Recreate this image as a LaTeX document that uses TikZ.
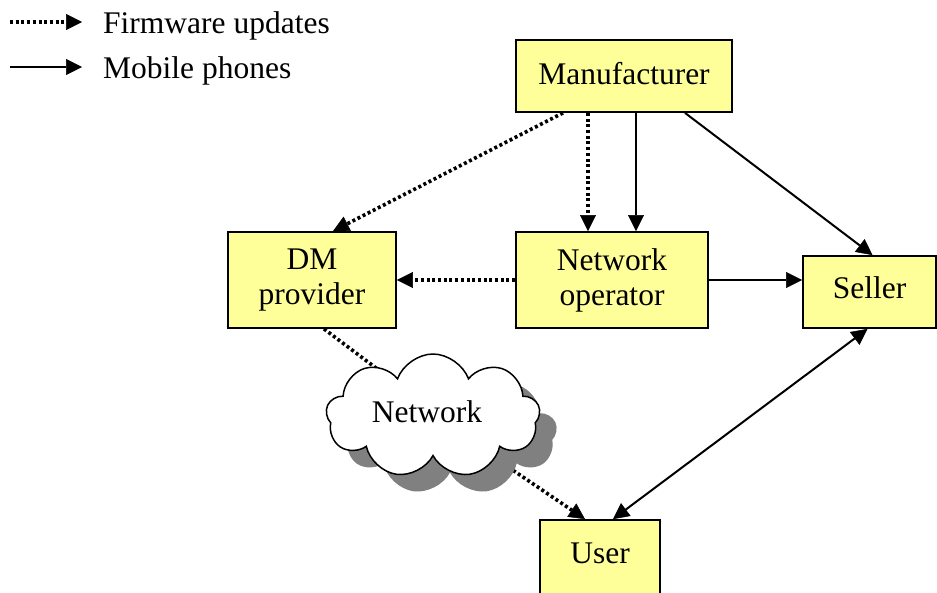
\documentclass[tikz,border=0pt]{standalone}
\usepackage{fontspec}
\setmainfont{Liberation Serif}
\newfontfamily\labelfont{Liberation Serif}
\usetikzlibrary{arrows.meta,shapes.symbols,shadows,backgrounds,calc}
\definecolor{boxyellow}{RGB}{255,255,153}
\definecolor{shadowgray}{RGB}{128,128,128}
\tikzset{
  every node/.style={font=\labelfont\fontsize{31.5}{35}\selectfont},
  actor/.style={draw=black, line width=1.8pt, fill=boxyellow, align=center,
    inner sep=0pt, anchor=center},
  tip/.style={-{Triangle[length=16pt,width=16pt,line width=0.5pt]}},
  bitip/.style={{Triangle[length=16pt,width=16pt,line width=0.5pt]}-{Triangle[length=16pt,width=16pt,line width=0.5pt]}},
  phones/.style={tip, line width=2pt},
  firmware/.style={tip, line width=3.6pt, dash pattern=on 3pt off 2.7pt},
  firmwareplain/.style={line width=3.6pt, dash pattern=on 3pt off 2.7pt},
}
\begin{document}
\begin{tikzpicture}[x=1pt, y=-1pt]
\useasboundingbox (0,0) rectangle (937,592);

% legend
\coordinate (fwa) at (10,22);
\coordinate (fwb) at (82,22);
\coordinate (mpa) at (10,67);
\coordinate (mpb) at (82,67);
\draw[firmware] (fwa) -- (fwb);
\draw[phones] (mpa) -- (mpb);
\node[anchor=base west, inner sep=0pt] (fwtext) at (103,33) {Firmware updates};
\node[anchor=base west, inner sep=0pt] (mptext) at (103,78) {Mobile phones};

% actors
\node[actor, minimum width=216pt, minimum height=72pt] (man) at (624,76) {\raisebox{6pt}{Manufacturer}};
\node[actor, minimum width=168pt, minimum height=96pt] (dm) at (312,280) {DM\\provider};
\node[actor, minimum width=192pt, minimum height=96pt] (netop) at (612,280) {Network\\operator};
\node[actor, minimum width=133pt, minimum height=72pt] (seller) at (869.5,292) {\raisebox{8pt}{Seller}};
\node[actor, minimum width=120pt, minimum height=80pt] (user) at (600,560) {\raisebox{14pt}{User}};

% the network cloud with its shadow
\node[cloud, cloud puffs=9, cloud puff arc=140, aspect=1.8,
      minimum width=214pt, minimum height=124pt, inner sep=0pt,
      draw=black, line width=1.5pt, fill=white,
      drop shadow={shadow xshift=17pt, shadow yshift=-17pt, fill=shadowgray, opacity=1}]
      (net) at (433,416) {};
\node (nettext) at (427,412) {Network};

% firmware updates (dotted)
\draw[firmware] ([xshift=-61pt]man.south) -- ([xshift=21pt]dm.north);
\draw[firmware] ([xshift=-24pt]netop.north |- man.south) -- ([xshift=-24pt]netop.north);
\draw[firmware] (netop.west) -- (dm.east);
\begin{pgfonlayer}{background}
  \draw[firmwareplain] ([xshift=12pt]dm.south) -- ($(net.center)+(20,10)$);
  \draw[firmware] (net.center) -- ([xshift=-15pt]user.north);
\end{pgfonlayer}

% mobile phones (solid)
\draw[phones] ([xshift=24pt]netop.north |- man.south) -- ([xshift=24pt]netop.north);
\draw[phones] ([xshift=61pt]man.south) -- ([xshift=3pt]seller.north);
\draw[phones] (netop.east) -- (netop.east -| seller.west);
\draw[bitip, line width=2pt] ([xshift=13pt]user.north) -- ([xshift=-2pt]seller.south);
\end{tikzpicture}
\end{document}
